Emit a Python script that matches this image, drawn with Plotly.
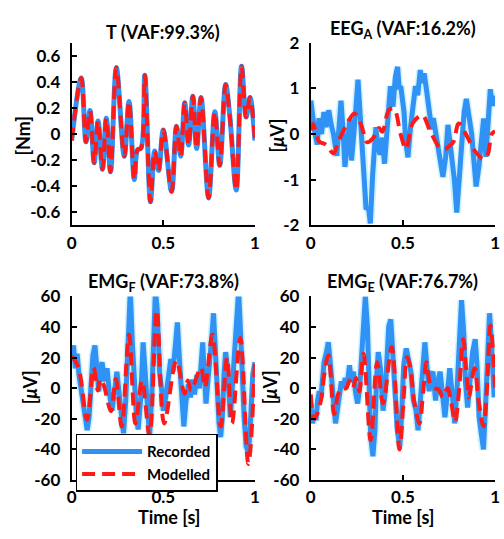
import plotly.graph_objects as go

# ---------------- data ----------------
T_time = [0, 0.052, 0.078, 0.1, 0.123, 0.144, 0.168, 0.189, 0.212, 0.244, 0.287, 0.313, 0.342, 0.36, 0.378,
          0.399, 0.43, 0.453, 0.474, 0.5, 0.545, 0.572, 0.595, 0.617, 0.638, 0.661, 0.682, 0.706, 0.747, 0.781,
          0.808, 0.84, 0.862, 0.898, 0.927, 0.952, 0.973, 1.0]
T_recorded = [-0.05, 0.43, -0.06, 0.18, -0.22, 0.10, -0.27, 0.12, -0.29, 0.51, -0.17, 0.25, -0.35, -0.12, -0.11,
              0.45, -0.52, -0.13, -0.28, 0.03, -0.44, 0.06, -0.17, 0.24, -0.085, 0.29, -0.11, 0.28, -0.49, 0.17,
              -0.24, 0.38, 0.15, -0.43, 0.52, 0.13, 0.28, -0.05]
T_modelled = [-0.05, 0.43, -0.06, 0.18, -0.22, 0.10, -0.27, 0.12, -0.29, 0.51, -0.17, 0.25, -0.35, -0.12, -0.11,
              0.45, -0.52, -0.13, -0.28, 0.03, -0.44, 0.06, -0.17, 0.24, -0.085, 0.29, -0.11, 0.28, -0.49, 0.17,
              -0.24, 0.38, 0.15, -0.43, 0.52, 0.13, 0.28, -0.05]

EEG_time = [0, 0.012, 0.023, 0.035, 0.044, 0.058, 0.071, 0.083, 0.097, 0.111, 0.123, 0.141, 0.153, 0.164, 0.176,
            0.185, 0.199, 0.212, 0.221, 0.229, 0.242, 0.256, 0.265, 0.277, 0.288, 0.3, 0.313, 0.323, 0.335, 0.344,
            0.353, 0.362, 0.376, 0.388, 0.4, 0.415, 0.432, 0.446, 0.459, 0.471, 0.48, 0.488, 0.506, 0.515, 0.527,
            0.541, 0.556, 0.568, 0.58, 0.594, 0.603, 0.615, 0.63, 0.643, 0.656, 0.665, 0.679, 0.691, 0.704, 0.717,
            0.732, 0.744, 0.757, 0.767, 0.779, 0.792, 0.806, 0.82, 0.832, 0.844, 0.859, 0.873, 0.885, 0.897, 0.912,
            0.926, 0.938, 0.95, 0.961, 0.974, 0.986, 1.0]
EEG_recorded = [0.73, 0.27, 0.0, -0.23, 0.35, 0.0, 0.48, 0.15, 0.52, 0.2, 0.0, -0.48, 0.34, 0.73, 0.0,
                -0.72, -0.2, 0.34, -0.58, -0.05, 0.41, 1.19, 0.6, 0.06, -0.65, -1.65, -1.6, -1.96, -0.94, -0.16,
                0.15, -0.23, -0.45, -0.08, -0.65, 0.15, 1.05, 0.6, 1.26, 1.47, 0.98, 1.05, 0.48, -0.16, -0.51,
                0.15, 0.69, 1.05, 0.85, 1.4, 1.12, 1.33, 0.9, 0.55, 0.1, 0.35, 0.0, -0.3, -0.65, -0.94,
                -0.5, 0.2, -0.25, -0.6, -1.0, -1.72, -0.94, -0.25, 0.48, 0.77, 0.35, 0.0, -0.58, -1.15, -0.72,
                0.0, 0.34, -0.5, 0.15, 0.98, 0.62, 0.84]
EEG_mod_time = [0, 0.012, 0.045, 0.08, 0.123, 0.15, 0.194, 0.236, 0.273, 0.305, 0.336, 0.37, 0.388, 0.425, 0.452,
                0.487, 0.517, 0.552, 0.605, 0.648, 0.70, 0.727, 0.753, 0.774, 0.803, 0.841, 0.89, 0.938, 0.96,
                0.982, 1.0]
EEG_modelled = [0.08, 0.22, -0.16, -0.23, -0.42, -0.16, 0.2, 0.45, 0.2, -0.18, -0.1, 0.13, 0.05, 0.53, 0.55,
                0.0, -0.33, 0.23, 0.41, 0.06, -0.3, -0.33, -0.26, -0.17, 0.23, 0.0, -0.37, -0.55, -0.45, 0.0, 0.06]

EMGF_time = [0, 0.01, 0.02, 0.03, 0.04, 0.05, 0.063, 0.077, 0.085, 0.095, 0.104, 0.116, 0.127, 0.14, 0.148,
             0.157, 0.166, 0.18, 0.193, 0.205, 0.22, 0.234, 0.247, 0.256, 0.27, 0.283, 0.295, 0.306, 0.315, 0.32,
             0.331, 0.342, 0.354, 0.363, 0.377, 0.39, 0.402, 0.416, 0.425, 0.438, 0.448, 0.457, 0.466, 0.48, 0.492,
             0.5, 0.513, 0.527, 0.541, 0.553, 0.566, 0.577, 0.588, 0.601, 0.612, 0.624, 0.637, 0.648, 0.66, 0.67,
             0.684, 0.697, 0.706, 0.715, 0.724, 0.733, 0.742, 0.756, 0.765, 0.774, 0.781, 0.791, 0.804, 0.813,
             0.822, 0.831, 0.84, 0.849, 0.857, 0.866, 0.875, 0.888, 0.899, 0.911, 0.92, 0.929, 0.941, 0.952,
             0.965, 0.977, 0.988, 1.0]
EMGF_recorded = [19, 28, 13, 22.5, 8.7, 0, -10.4, -21, -27.4, -19, 2.4, 21.5, 28, 8.7, -2,
                 13, 17, 4.5, 13, -2, -14.7, -2, 10.8, 0, -19, -29.5, -8.3, 23.6, 55.5, 64,
                 30, 2.4, -19, -27, -6, 30, 8.7, -19, -31.7, -2, 36, 64, 53, 10, -2,
                 -14.7, -6, 8.7, 19, 11, 34, 43, 19, -8.3, -25, -8.3, 2.6, -6, 5.6, -4,
                 8.7, 0, 13, 30, 8.7, -10, 2.6, 19, 34, 49, 32, -2, -23, -32,
                 -19, 8.7, 23.6, 15, -2, -19, -2, 19, 40.6, 64, 40.6, 8.7, -19, -38,
                 -42, -19, 8.7, 17]
EMGF_mod_time = [0, 0.036, 0.084, 0.12, 0.143, 0.155, 0.175, 0.214, 0.241, 0.273, 0.313, 0.348, 0.384, 0.425,
                 0.464, 0.505, 0.571, 0.616, 0.634, 0.652, 0.705, 0.727, 0.768, 0.813, 0.848, 0.875, 0.92, 0.964,
                 1.0]
EMGF_modelled = [21, 14, -20.7, 13.5, -1.5, 6, 2, -15, 6, -25, 35, -23, 5, -31,
                 51, -23, 18, -3.6, 5, -1.5, 13.5, 0.6, 35, -25, 20, -23, 33, -49.5,
                 17]

EMGE_time = [0, 0.01, 0.02, 0.028, 0.037, 0.046, 0.055, 0.064, 0.072, 0.085, 0.095, 0.104, 0.116, 0.125, 0.134,
             0.146, 0.157, 0.166, 0.175, 0.187, 0.198, 0.21, 0.219, 0.232, 0.242, 0.254, 0.265, 0.275, 0.286,
             0.296, 0.307, 0.316, 0.325, 0.337, 0.348, 0.357, 0.366, 0.378, 0.392, 0.404, 0.413, 0.423, 0.434,
             0.445, 0.457, 0.469, 0.483, 0.495, 0.504, 0.518, 0.53, 0.543, 0.557, 0.571, 0.582, 0.595, 0.606,
             0.619, 0.628, 0.642, 0.654, 0.663, 0.677, 0.689, 0.702, 0.716, 0.728, 0.742, 0.754, 0.769, 0.781,
             0.795, 0.807, 0.818, 0.83, 0.839, 0.851, 0.863, 0.878, 0.892, 0.902, 0.913, 0.927, 0.937, 0.948,
             0.959, 0.97, 0.98, 0.995]
EMGE_recorded = [-10, -23, -14.7, -21, -8, -2, -6, 8.7, 17, 23.6, 30, 19, -2, -19, -23,
                 -12.6, -2, 4.5, 0, 6.6, 2.4, 15, 4.5, 10.8, -2, -10, 0, 19, 45,
                 60, 40.6, -2, -31.7, -44.5, -27.5, 6.6, 23.6, 13, -14.7, -2, 28, 40.6, 45,
                 26, -2, -27.5, -38, -12, 15, 26, 19, 10.8, -8, -14.7, -27.5, -10, 10.8,
                 30, 17, -2, 8.7, 10.8, -8, 4.5, 10.8, -6, -19, -2, 13, -6, -23,
                 2.4, 40.6, 57.6, 36, 4.5, -12.6, 2.4, 23.6, 32, 15, -19, -34, -40, -12.6,
                 28, 49, 30, -6]
EMGE_mod_time = [0, 0.018, 0.034, 0.058, 0.07, 0.095, 0.127, 0.148, 0.166, 0.192, 0.21, 0.228, 0.245, 0.263,
                 0.286, 0.325, 0.36, 0.392, 0.439, 0.481, 0.504, 0.522, 0.54, 0.56, 0.589, 0.61, 0.628, 0.649,
                 0.672, 0.695, 0.716, 0.742, 0.76, 0.783, 0.804, 0.827, 0.848, 0.857, 0.889, 0.91, 0.937, 0.955,
                 0.975, 1.0]
EMGE_modelled = [-4, -20, -17, -6, 6.6, 21.5, -17, -4, 0, 0, 5, 0, 6.6, -2,
                 22.5, -34, 17, -10, 27, -40, -6, 20.4, 14, -8, -23, -2, 17, 2.4,
                 0, -1, -6, 0, -8, -22, -2, 32, 4.5, -6, 13, -8, -25, -2,
                 41, 0]

X_TICKS = [0, 0.5, 1]
X_TICKTEXT = ["0", "0.5", "1"]
T_TICKS = [-0.6, -0.4, -0.2, 0, 0.2, 0.4, 0.6]
T_TICKTEXT = ["-0.6", "-0.4", "-0.2", "0", "0.2", "0.4", "0.6"]
EEG_TICKS = [-2, -1, 0, 1, 2]
EEG_TICKTEXT = ["-2", "-1", "0", "1", "2"]
EMG_TICKS = [-60, -40, -20, 0, 20, 40, 60]
EMG_TICKTEXT = ["-60", "-40", "-20", "0", "20", "40", "60"]

# ---------------- style ----------------
BLUE = "#3092F5"
CYAN = "#CDF2FB"
RED = "#FF1A1A"
FONT = "Lato"
W, H = 504, 539

fig = go.Figure()


def add_panel(ax, t_rec, y_rec, t_mod, y_mod, smooth_rec, legend):
    xa = "x" if ax == 1 else f"x{ax}"
    ya = "y" if ax == 1 else f"y{ax}"
    shape = "spline" if smooth_rec else "linear"
    if not smooth_rec:
        fig.add_trace(go.Scatter(x=t_rec, y=y_rec, mode="lines", xaxis=xa, yaxis=ya,
                                 line=dict(color=CYAN, width=8, shape=shape), showlegend=False,
                                 hoverinfo="skip"))
    fig.add_trace(go.Scatter(x=t_rec, y=y_rec, mode="lines", xaxis=xa, yaxis=ya, name="Recorded",
                             line=dict(color=BLUE, width=5, shape=shape),
                             showlegend=legend, legendrank=1))
    fig.add_trace(go.Scatter(x=t_mod, y=y_mod, mode="lines", xaxis=xa, yaxis=ya, name="Modelled",
                             line=dict(color=RED, width=4, dash="13px,7px", shape="spline"),
                             showlegend=legend, legendrank=2))


add_panel(1, T_time, T_recorded, T_time, T_modelled, True, False)
add_panel(2, EEG_time, EEG_recorded, EEG_mod_time, EEG_modelled, False, False)
add_panel(3, EMGF_time, EMGF_recorded, EMGF_mod_time, EMGF_modelled, False, True)
add_panel(4, EMGE_time, EMGE_recorded, EMGE_mod_time, EMGE_modelled, False, False)

tickfont = dict(family=FONT, size=17, color="black", weight="bold")
axis_common = dict(showline=True, linecolor="black", linewidth=2, ticks="inside", ticklen=5, tickwidth=2,
                   tickcolor="black", showgrid=False, zeroline=False, mirror=False, tickfont=tickfont,
                   ticklabeloverflow="allow")

# panel boxes in pixels: (left, right, top, bottom)
boxes = {1: (68, 255, 33, 223), 2: (312, 500, 33, 223), 3: (68, 255, 297, 488), 4: (312, 500, 297, 488)}
yinfo = {1: ([-0.7, 0.7], T_TICKS, T_TICKTEXT), 2: ([-2, 2], EEG_TICKS, EEG_TICKTEXT),
         3: ([-60, 60], EMG_TICKS, EMG_TICKTEXT), 4: ([-60, 60], EMG_TICKS, EMG_TICKTEXT)}

layout = {}
for k, (l, r, t, b) in boxes.items():
    xn = "xaxis" if k == 1 else f"xaxis{k}"
    yn = "yaxis" if k == 1 else f"yaxis{k}"
    layout[xn] = dict(axis_common, domain=[l / W, r / W], range=[0, 1], tickvals=X_TICKS, ticktext=X_TICKTEXT,
                      anchor="y" if k == 1 else f"y{k}", ticklabelstandoff=1)
    rng, tv, tt = yinfo[k]
    layout[yn] = dict(axis_common, domain=[1 - b / H, 1 - t / H], range=rng, tickvals=tv, ticktext=tt,
                      anchor="x" if k == 1 else f"x{k}", ticklabelstandoff=6)

fig.update_layout(**layout)

ann = []
def text(x, y, s, size=18, angle=0):
    ann.append(dict(x=x / W, y=1 - y / H, xref="paper", yref="paper", text=s, showarrow=False,
                    font=dict(family=FONT, size=size, color="black", weight="bold"), textangle=angle,
                    xanchor="center", yanchor="middle"))

text(161.5, 22, "T (VAF:99.3%)")
text(406, 19, "EEG<sub>A</sub> (VAF:16.2%)")
text(161.5, 282, "EMG<sub>F</sub> (VAF:73.8%)")
text(406, 282, "EMG<sub>E</sub> (VAF:76.7%)")
text(18, 130, "[Nm]", angle=-90)
text(277, 130, "[<i>μ</i>V]", angle=-90)
text(25, 392, "[<i>μ</i>V]", angle=-90)
text(270, 392, "[<i>μ</i>V]", angle=-90)
text(168, 527, "Time [s]")
text(407, 527, "Time [s]")

fig.update_layout(
    width=W, height=H, margin=dict(l=0, r=0, t=0, b=0),
    paper_bgcolor="white", plot_bgcolor="white",
    annotations=ann,
    showlegend=True,
    legend=dict(x=72 / W, y=1 - 440 / H, xanchor="left", yanchor="top", bgcolor="white",
                bordercolor="black", borderwidth=1.5, itemwidth=60, tracegroupgap=0,
                font=dict(family=FONT, size=15, color="black", weight="bold")),
)

# remove the default 8px page margin so the figure sits at the window's top-left corner
fig.write_html("out.html", config={"displayModeBar": False},
               post_script="document.body.style.margin='0px';")
